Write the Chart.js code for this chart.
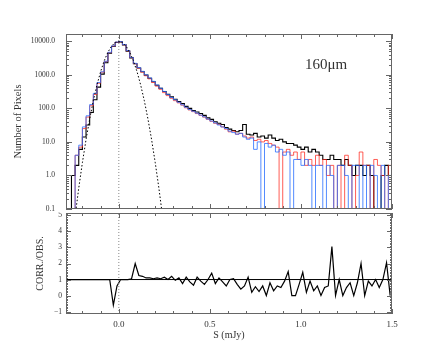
<!DOCTYPE html>
<html>
<head>
<meta charset="utf-8">
<script src="https://cdn.jsdelivr.net/npm/chart.js@4.4.1/dist/chart.umd.min.js"></script>
<style>
  body { margin: 0; background: #fff; }
  #wrap { position: relative; width: 436px; height: 349px; }
  canvas { position: absolute; left: 0; }
  #top { top: 0; }
  #bot { top: 212px; }
  #band { position: absolute; left: 305px; top: 56px; font: 15px "Liberation Serif", serif; color: #333; }
</style>
</head>
<body>
<div id="wrap">
  <canvas id="top" width="436" height="212"></canvas>
  <canvas id="bot" width="436" height="137"></canvas>
  <div id="band">160μm</div>
</div>
<script>
// histogram bins (mJy): left edge of first bin and bin width
const binStart = -0.30;
const binWidth = 0.02;

// pixel counts per bin
const countsBlack = [0, 0,
  1, 2, 6, 14, 32, 75, 180, 430, 1050, 2300,
  4400, 7000, 9200, 9600, 7800, 5100, 3200, 2150, 1600, 1230,
  980, 790, 620, 490, 400, 320, 262, 220, 188, 160,
  140, 115, 100, 86, 78, 70, 62, 52, 47, 40,
  36, 33, 27, 24, 22, 20, 22, 33, 17, 16,
  18, 14, 15, 13, 16, 13, 11, 12, 10, 9,
  9, 8, 7, 6, 7, 5, 6, 5, 4, 3,
  3, 4, 3, 3, 2, 3, 2, 1, 2, 2,
  1, 2, 1, 0, 0, 1, 2, 1];
const countsRed = [0, 0,
  0, 4, 7, 25, 55, 120, 260, 560, 1200, 2500,
  4600, 7200, 9400, 9700, 7900, 5200, 3250, 2150, 1580, 1200,
  940, 760, 590, 460, 370, 295, 240, 200, 170, 146,
  125, 104, 90, 80, 70, 62, 55, 47, 41, 36,
  33, 28, 24, 20, 21, 17, 18, 15, 13, 14,
  11, 12, 10, 11, 9, 8, 7, 0, 5, 6,
  4, 5, 3, 5, 2, 3, 2, 4, 2, 3,
  1, 2, 0, 2, 0, 4, 2, 0, 1, 5,
  2, 2, 0, 3, 2, 1, 0, 2];
const countsBlue = [0, 0,
  0, 4, 8, 28, 60, 130, 280, 590, 1230, 2550,
  4700, 7300, 9500, 9800, 8000, 5300, 3300, 2200, 1640, 1270,
  1000, 810, 640, 500, 400, 320, 258, 212, 180, 152,
  128, 108, 92, 82, 72, 63, 56, 48, 42, 37,
  32, 28, 25, 21, 19, 17, 18, 14, 12, 13,
  6, 10, 0, 9, 7, 8, 5, 6, 4, 5,
  0, 3, 3, 2, 3, 2, 0, 2, 2, 0,
  2, 1, 0, 2, 2, 1, 0, 2, 2, 0,
  2, 0, 2, 1, 0, 2, 0, 1];

// corr./obs. ratio per bin
const ratio = [1, 1,
  1, 1, 1, 1, 1, 1, 1, 1, 1, 1,
  1, -0.6, 0.6, 1, 1, 1, 1.05, 2.0, 1.25, 1.2,
  1.1, 1.1, 1.05, 1.1, 1.05, 1.15, 1.0, 1.2, 0.95, 1.1,
  0.75, 1.15, 0.85, 0.65, 1.15, 0.9, 0.7, 1.0, 1.4, 0.75,
  1.1, 0.85, 0.6, 1.0, 1.05, 0.7, 0.4, 0.6, 1.15, 0.2,
  0.55, 0.25, 0.6, 0.0, 0.8, 0.3, 0.6, 0.5, 0.9, 1.5,
  0.0, 0.0, 0.7, 1.45, 0.2, 0.9, 0.3, 0.6, 0.0, 0.5,
  0.6, 3.05, 0.0, 1.0, 0.0, 0.5, 0.8, 0.0, 0.8, 2.0,
  0.0, 0.9, 0.6, 1.0, 0.5, 1.0, 2.05, 0.0];

// gaussian noise model (dotted)
const gaussS = [-0.26, -0.24, -0.22, -0.20, -0.18, -0.16, -0.14, -0.12, -0.10, -0.08, -0.06, -0.04, -0.02,
  0, 0.02, 0.04, 0.06, 0.08, 0.10, 0.12, 0.14, 0.16, 0.18, 0.20, 0.22, 0.24, 0.26];
const gaussN = [0.0077, 0.061, 0.42, 2.4, 11.7, 48, 169, 498, 1245, 2640, 4720, 7170, 9200,
  10000, 9200, 7170, 4720, 2640, 1245, 498, 169, 48, 11.7, 2.4, 0.42, 0.061, 0.0077];

// axis ticks
const sTicks = [0.0, 0.5, 1.0, 1.5];
const countTicks = [0.1, 1, 10, 100, 1000, 10000];
const ratioTicks = [-1, 0, 1, 2, 3, 4, 5];

const sMin = -0.29, sMax = 1.5;
const nMin = 0.1, nMax = 16500;
const rMin = -1.15, rMax = 5.15;

const serif = '"Liberation Serif", "DejaVu Serif", serif';
const textColor = '#333';

// log axis can't show zero, push empty bins below the frame
function stepPoints(counts) {
  const pts = counts.map((c, i) => ({ x: binStart + i * binWidth, y: c > 0 ? c : 0.01 }));
  const last = counts[counts.length - 1];
  pts.push({ x: binStart + counts.length * binWidth, y: last > 0 ? last : 0.01 });
  return pts;
}

// inward tick marks on all four sides plus the box
function makeFrame(xTicks, yTicks) {
  return {
    id: 'frame',
    afterDatasetsDraw(chart) {
      const { ctx, chartArea: a } = chart;
      const xs = chart.scales.x, ys = chart.scales.y;
      ctx.save();
      ctx.strokeStyle = '#666';
      ctx.lineWidth = 1;
      ctx.beginPath();
      xTicks.forEach(([v, len]) => {
        const px = Math.round(xs.getPixelForValue(v)) + 0.5;
        ctx.moveTo(px, a.bottom); ctx.lineTo(px, a.bottom - len);
        ctx.moveTo(px, a.top); ctx.lineTo(px, a.top + len);
      });
      yTicks.forEach(([v, len]) => {
        const py = Math.round(ys.getPixelForValue(v)) + 0.5;
        ctx.moveTo(a.left, py); ctx.lineTo(a.left + len, py);
        ctx.moveTo(a.right, py); ctx.lineTo(a.right - len, py);
      });
      ctx.stroke();
      ctx.strokeRect(a.left + 0.5, a.top + 0.5, a.right - a.left - 1, a.bottom - a.top - 1);
      ctx.restore();
    }
  };
}

const xTickMarks = [];
for (let k = -2; k <= 15; k++) {
  xTickMarks.push([k / 10, k % 5 === 0 ? 5 : 3]);
}
const countTickMarks = [];
countTicks.forEach(d => {
  countTickMarks.push([d, 6]);
  for (let m = 2; m <= 9; m++) if (d * m <= nMax) countTickMarks.push([d * m, 3]);
});
const ratioTickMarks = [];
for (let k = -11; k <= 51; k++) {
  ratioTickMarks.push([k / 10, k % 10 === 0 ? 5 : 2]);
}

const baseOpts = {
  responsive: false,
  animation: false,
  events: [],
  plugins: { legend: { display: false }, tooltip: { enabled: false } },
  elements: { point: { radius: 0 }, line: { tension: 0 } }
};

// top panel: pixel histograms
new Chart(document.getElementById('top'), {
  type: 'line',
  data: {
    datasets: [
      {
        data: [{ x: 0, y: nMin }, { x: 0, y: nMax }],
        borderColor: '#888', borderWidth: 1, borderDash: [1, 2]
      },
      {
        data: gaussS.map((s, i) => ({ x: s, y: gaussN[i] })),
        borderColor: '#000', borderWidth: 1, borderDash: [1.5, 2]
      },
      {
        data: stepPoints(countsBlue), stepped: true,
        borderColor: 'rgba(40, 110, 255, 0.8)', borderWidth: 1
      },
      {
        data: stepPoints(countsRed), stepped: true,
        borderColor: 'rgba(255, 40, 30, 0.75)', borderWidth: 1
      },
      {
        data: stepPoints(countsBlack), stepped: true,
        borderColor: '#000', borderWidth: 1.1
      }
    ]
  },
  options: {
    ...baseOpts,
    layout: { padding: { top: 34, right: 44, left: 0, bottom: 0 } },
    scales: {
      x: {
        type: 'linear', min: sMin, max: sMax,
        ticks: { display: false },
        grid: { display: false, drawTicks: false },
        border: { display: false },
        afterFit(s) { s.height = 3; s.paddingLeft = 0; s.paddingRight = 0; }
      },
      y: {
        type: 'logarithmic', min: nMin, max: nMax,
        afterBuildTicks(s) { s.ticks = countTicks.map(v => ({ value: v })); },
        ticks: {
          callback: v => Number(v).toFixed(1),
          autoSkip: false, padding: 11, color: textColor,
          font: { family: serif, size: 7.5 }
        },
        grid: { display: false, drawTicks: false },
        border: { display: false },
        title: {
          display: true, text: 'Number of Pixels', color: textColor,
          font: { family: serif, size: 10.5 }, padding: { top: 11.5, bottom: 0 }
        },
        afterFit(s) { s.width = 66; s.paddingTop = 0; s.paddingBottom = 0; }
      }
    }
  },
  plugins: [makeFrame(xTickMarks, countTickMarks)]
});

// bottom panel: correction ratio
new Chart(document.getElementById('bot'), {
  type: 'line',
  data: {
    datasets: [
      {
        data: [{ x: 0, y: rMin }, { x: 0, y: rMax }],
        borderColor: '#888', borderWidth: 1, borderDash: [1, 2]
      },
      {
        data: [{ x: sMin, y: 1 }, { x: sMax, y: 1 }],
        borderColor: '#000', borderWidth: 1
      },
      {
        data: ratio.map((r, i) => ({ x: binStart + (i + 0.5) * binWidth, y: r })),
        borderColor: '#000', borderWidth: 1.2
      }
    ]
  },
  options: {
    ...baseOpts,
    layout: { padding: { top: 1, right: 44, left: 0, bottom: 0 } },
    scales: {
      x: {
        type: 'linear', min: sMin, max: sMax,
        afterBuildTicks(s) { s.ticks = sTicks.map(v => ({ value: v })); },
        ticks: {
          callback: v => Number(v).toFixed(1),
          autoSkip: false, maxRotation: 0, padding: 5, color: textColor,
          font: { family: serif, size: 9 }
        },
        grid: { display: false, drawTicks: false },
        border: { display: false },
        title: {
          display: true, text: 'S (mJy)', color: textColor,
          font: { family: serif, size: 10 }, padding: { top: 0, bottom: 8 }
        },
        afterFit(s) { s.height = 35; s.paddingLeft = 0; s.paddingRight = 0; }
      },
      y: {
        type: 'linear', min: rMin, max: rMax,
        afterBuildTicks(s) { s.ticks = ratioTicks.map(v => ({ value: v })); },
        ticks: {
          callback: v => String(v).replace('-', '\u2212'),
          autoSkip: false, padding: 4, color: textColor,
          font: { family: serif, size: 7.5 }
        },
        grid: { display: false, drawTicks: false },
        border: { display: false },
        title: {
          display: true, text: 'CORR./OBS.', color: textColor,
          font: { family: serif, size: 10 }, padding: { top: 34, bottom: 0 }
        },
        afterFit(s) { s.width = 66; s.paddingTop = 0; s.paddingBottom = 0; }
      }
    }
  },
  plugins: [makeFrame(xTickMarks, ratioTickMarks)]
});
</script>
</body>
</html>
